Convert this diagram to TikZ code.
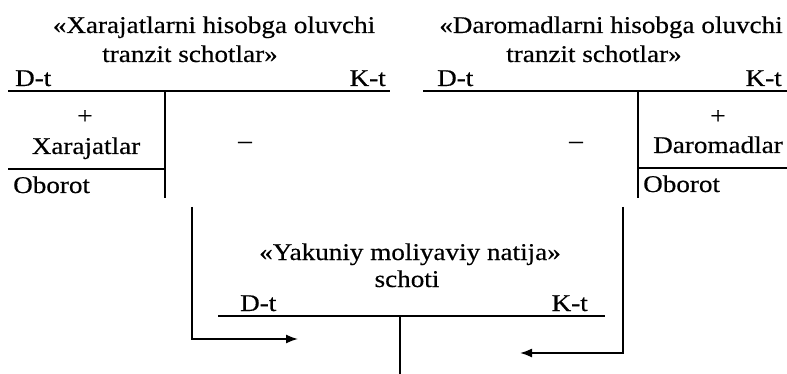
\documentclass[tikz,border=0pt]{standalone}
\usepackage{fontspec}
\setmainfont{Liberation Serif}[FakeStretch=1.13, FakeBold=0.5]
\usetikzlibrary{positioning}
\usetikzlibrary{arrows.meta}
\tikzset{
        acc_text/.style={inner sep=0pt, font=\fontsize{24}{29}\selectfont},
        % Account titles
        acc_title/.style={acc_text, anchor=base},
        % D-t / K-t and Oborot labels
        acc_left/.style={acc_text, anchor=base west},
        acc_right/.style={acc_text, anchor=base east},
        % T-account lines
        acc_line/.style={line width=1.6pt},
        % Transfer arrows
        flow_arrow/.style={line width=1.6pt, -{Latex[length=12pt, width=9pt]}}
}
\begin{document}
\begin{tikzpicture}[x=1pt, y=-1pt]
            \useasboundingbox (0,0) rectangle (787,374);
            % Expenses transit account
            \node[acc_title] (xar_t1) at (214,33) {«Xarajatlarni hisobga oluvchi};
            \node[acc_title] (xar_t2) at (190,62) {tranzit schotlar»};
            \node[acc_left] (xar_d) at (15,86) {D-t};
            \node[acc_right] (xar_k) at (386,86) {K-t};
            \coordinate (xar_l) at (8,91);
            \coordinate (xar_r) at (390,91);
            \coordinate (xar_m) at (165,91);
            \coordinate (xar_b) at (165,198);
            \coordinate (xar_s) at (8,169);
            \draw[acc_line] (xar_l) -- (xar_r);
            \draw[acc_line] (xar_m) -- (xar_b);
            \draw[acc_line] (xar_s) -- (xar_s -| xar_m);
            \node[acc_text] (xar_plus) at (85,117) {+};
            \node[acc_title] (xar_val) at (86,154) {Xarajatlar};
            \node[acc_text] (xar_minus) at (245,145) {–};
            \node[acc_left] (xar_ob) at (13,193) {Oborot};
            % Income transit account
            \node[acc_title] (dar_t1) at (611,33) {«Daromadlarni hisobga oluvchi};
            \node[acc_title] (dar_t2) at (594,62) {tranzit schotlar»};
            \node[acc_left] (dar_d) at (437,86) {D-t};
            \node[acc_right] (dar_k) at (782,86) {K-t};
            \coordinate (dar_l) at (423,91);
            \coordinate (dar_r) at (787,91);
            \coordinate (dar_m) at (638,91);
            \coordinate (dar_b) at (638,198);
            \coordinate (dar_s) at (787,168);
            \draw[acc_line] (dar_l) -- (dar_r);
            \draw[acc_line] (dar_m) -- (dar_b);
            \draw[acc_line] (dar_s) -- (dar_s -| dar_m);
            \node[acc_text] (dar_plus) at (718,117) {+};
            \node[acc_title] (dar_val) at (718,153) {Daromadlar};
            \node[acc_text] (dar_minus) at (576,145) {–};
            \node[acc_left] (dar_ob) at (643,192) {Oborot};
            % Final financial result account
            \node[acc_title] (yak_t1) at (410,260) {«Yakuniy moliyaviy natija»};
            \node[acc_title] (yak_t2) at (407,287) {schoti};
            \node[acc_left] (yak_d) at (240,311) {D-t};
            \node[acc_right] (yak_k) at (588,311) {K-t};
            \coordinate (yak_l) at (218,316);
            \coordinate (yak_r) at (605,316);
            \coordinate (yak_m) at (400,316);
            \coordinate (yak_b) at (400,374);
            \draw[acc_line] (yak_l) -- (yak_r);
            \draw[acc_line] (yak_m) -- (yak_b);
            % Transfers
            \coordinate (xar_out) at (192,207);
            \coordinate (yak_in_d) at (298,339);
            \coordinate (dar_out) at (623,207);
            \coordinate (yak_in_k) at (520,353);
            \draw[flow_arrow] (xar_out) |- (yak_in_d);
            \draw[flow_arrow] (dar_out) |- (yak_in_k);
\end{tikzpicture}
\end{document}
